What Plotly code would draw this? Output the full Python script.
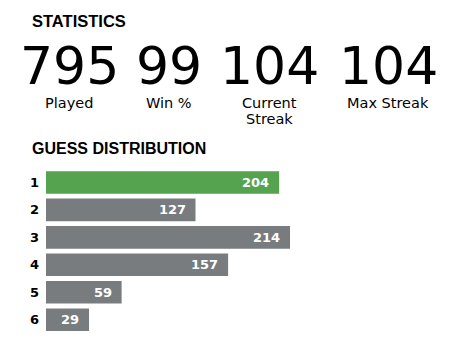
import plotly.graph_objects as go

# ---- data ----
stat_values = [795, 99, 104, 104]
stat_labels = ["Played", "Win %", "Current<br>Streak", "Max Streak"]
guess_labels = ["1", "2", "3", "4", "5", "6"]
guess_counts = [204, 127, 214, 157, 59, 29]
highlight_guess = "1"

# ---- styling / layout constants ----
W, H = 472, 351
GREEN = "#56a34f"
GRAY = "#787c7e"
PX_PER_UNIT = 1.0865      # horizontal scale of the bars
MIN_PAD = 10.6            # minimum bar stub (data units)
BAR_LEFT = 46             # px
ROW_PITCH = 27.48         # px
FIRST_ROW_Y = 182.4       # px (center of first bar)
LABEL_LINE = 16.3         # px between label lines

def px(x):
    return x / W

def py(y):
    return 1 - y / H

y_pos = list(range(1, len(guess_counts) + 1))
colors = [GREEN if g == highlight_guess else GRAY for g in guess_labels]

fig = go.Figure()
fig.add_trace(go.Bar(
    orientation="h",
    y=y_pos,
    x=[c + MIN_PAD for c in guess_counts],
    base=-MIN_PAD,
    marker=dict(color=colors, line=dict(width=0)),
    width=0.82,
    hoverinfo="skip",
))

annotations = []
# bar value labels
for yp, c in zip(y_pos, guess_counts):
    annotations.append(dict(
        x=c, y=yp, xref="x", yref="y", text=str(c), showarrow=False,
        xanchor="right", yanchor="middle", xshift=-8,
        font=dict(family="DejaVu Sans", size=13, color="white", weight="bold"),
    ))

# titles
annotations.append(dict(
    x=px(30), y=py(20.7), xref="paper", yref="paper", text="STATISTICS",
    showarrow=False, xanchor="left", yanchor="middle",
    font=dict(family="Liberation Sans", size=16.5, color="black", weight="bold"),
))
annotations.append(dict(
    x=px(30), y=py(148.3), xref="paper", yref="paper", text="GUESS DISTRIBUTION",
    showarrow=False, xanchor="left", yanchor="middle",
    font=dict(family="Liberation Sans", size=16, color="black", weight="bold"),
))

# statistics
col_centers = [69.2, 168.5, 269, 388]
for cx, v, lab in zip(col_centers, stat_values, stat_labels):
    annotations.append(dict(
        x=px(cx), y=py(66), xref="paper", yref="paper", text=str(v),
        showarrow=False, xanchor="center", yanchor="middle",
        font=dict(family="DejaVu Sans", size=52, color="black"),
    ))
    for i, line in enumerate(lab.split("<br>")):
        annotations.append(dict(
            x=px(cx), y=py(103.2 + i * LABEL_LINE), xref="paper", yref="paper",
            text=line, showarrow=False, xanchor="center", yanchor="middle",
            font=dict(family="DejaVu Sans", size=14.5, color="black"),
        ))

top_val = 1 - FIRST_ROW_Y / ROW_PITCH
bot_val = 1 + (H - FIRST_ROW_Y) / ROW_PITCH
x_right = (W - BAR_LEFT) / PX_PER_UNIT - MIN_PAD

fig.update_layout(
    width=W, height=H,
    margin=dict(l=0, r=0, t=0, b=0),
    paper_bgcolor="white", plot_bgcolor="white",
    showlegend=False,
    annotations=annotations,
    xaxis=dict(domain=[px(BAR_LEFT), 1], range=[-MIN_PAD, x_right],
               visible=False, fixedrange=True),
    yaxis=dict(domain=[0, 1], range=[bot_val, top_val],
               tickvals=y_pos, ticktext=guess_labels, ticks="",
               showgrid=False, zeroline=False, showline=False,
               tickfont=dict(family="DejaVu Sans", size=13, color="black", weight="bold"),
               ticklabelstandoff=6, fixedrange=True),
)

fig.write_html("out.html", config={"displayModeBar": False})
